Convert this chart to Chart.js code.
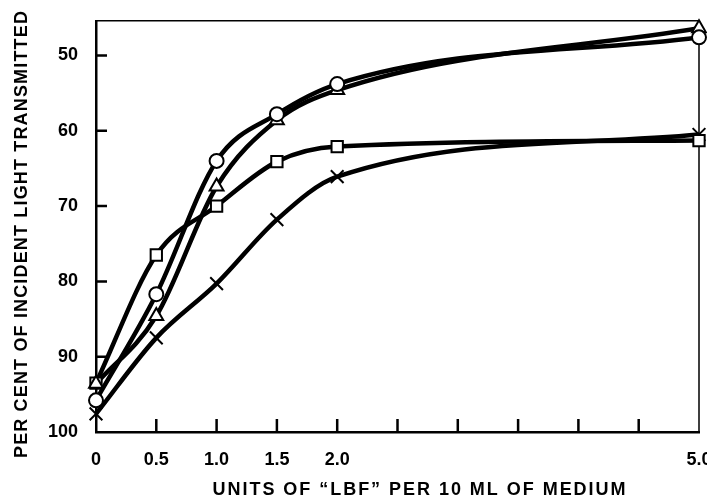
<!DOCTYPE html>
<html lang="en">
<head>
<meta charset="UTF-8" />
<title>Light transmitted vs LBF</title>
<script src="https://cdn.jsdelivr.net/npm/chart.js"></script>
<style>
  html, body { margin: 0; padding: 0; background: #fff; }
  canvas { display: block; }
</style>
</head>
<body>
<canvas id="chart" width="707" height="500"></canvas>
<script>
// units of "LBF" per 10 ml
const xValues = [0, 0.5, 1.0, 1.5, 2.0, 5.0];

// per cent of incident light transmitted
const circleSeries   = [95.8, 81.7, 64.0, 57.8, 53.8, 47.6];
const triangleSeries = [93.6, 84.6, 67.4, 58.6, 54.6, 46.4];
const squareSeries   = [93.5, 76.5, 70.0, 64.1, 62.1, 61.3];
const crossSeries    = [97.6, 87.5, 80.3, 71.8, 66.1, 60.5];

const xTickValues  = [0, 0.5, 1, 1.5, 2, 2.5, 3, 3.5, 4, 4.5, 5];
const xTickLabels  = { 0: '0', 0.5: '0.5', 1: '1.0', 1.5: '1.5', 2: '2.0', 5: '5.0' };
const yTickValues  = [50, 60, 70, 80, 90, 100];

const xTitle = 'UNITS OF \u201CLBF\u201D PER 10 ML OF MEDIUM';
const yTitle = 'PER CENT OF INCIDENT LIGHT TRANSMITTED';

const series = [
  { data: circleSeries,   style: 'circle',   r: 7 },
  { data: triangleSeries, style: 'triangle', r: 8 },
  { data: squareSeries,   style: 'rect',     r: 8 },
  { data: crossSeries,    style: 'crossRot', r: 9 }
];

const toPoints = arr => arr.map((y, i) => ({ x: xValues[i], y }));

const lineSets = series.map(s => ({
  data: toPoints(s.data),
  showLine: true,
  borderColor: '#000',
  borderWidth: 4.5,
  pointRadius: 0,
  fill: false,
  cubicInterpolationMode: 'monotone'
}));

const markerSets = series.map(s => ({
  data: toPoints(s.data),
  showLine: false,
  pointStyle: s.style,
  pointRadius: s.r,
  pointBorderWidth: 2,
  pointBorderColor: '#000',
  pointBackgroundColor: '#fff',
  clip: false
}));

const FONT = '"Liberation Sans", Arial, sans-serif';

// inner tick marks, frame and spaced-out axis titles
const decor = {
  id: 'decor',
  beforeDatasetsDraw(chart) {
    const { ctx, chartArea: a, scales: { x, y } } = chart;
    ctx.save();
    ctx.strokeStyle = '#000';
    ctx.lineWidth = 2.5;
    ctx.beginPath();
    yTickValues.slice(0, -1).forEach(v => {
      const py = y.getPixelForValue(v);
      ctx.moveTo(a.left, py);
      ctx.lineTo(a.left + 11, py);
    });
    xTickValues.slice(1, -1).forEach(v => {
      const px = x.getPixelForValue(v);
      ctx.moveTo(px, a.bottom);
      ctx.lineTo(px, a.bottom - 13);
    });
    ctx.stroke();
    ctx.lineWidth = 1.5;
    ctx.beginPath();
    ctx.moveTo(a.left, a.top);
    ctx.lineTo(a.right, a.top);
    ctx.lineTo(a.right, a.bottom);
    ctx.stroke();
    ctx.restore();
  },
  afterDraw(chart) {
    const { ctx } = chart;
    const drawSpaced = (text, cx, cy, width, rot) => {
      ctx.save();
      ctx.font = 'bold 18px ' + FONT;
      ctx.fillStyle = '#000';
      ctx.textAlign = 'center';
      ctx.textBaseline = 'middle';
      const natural = ctx.measureText(text).width;
      ctx.letterSpacing = ((width - natural) / (text.length - 1)).toFixed(2) + 'px';
      ctx.translate(cx, cy);
      ctx.rotate(rot);
      ctx.fillText(text, 0, 0);
      ctx.restore();
    };
    drawSpaced(xTitle, 420, 490, 413, 0);
    drawSpaced(yTitle, 22, 234, 447, -Math.PI / 2);
  }
};

new Chart(document.getElementById('chart'), {
  type: 'scatter',
  // first dataset is painted last, so markers go first to sit on top of the curves
  data: { datasets: [...markerSets, ...lineSets] },
  options: {
    responsive: false,
    animation: false,
    devicePixelRatio: 1,
    layout: { autoPadding: false, padding: { top: 18, right: 8, left: 0, bottom: 0 } },
    plugins: { legend: { display: false }, tooltip: { enabled: false } },
    scales: {
      x: {
        type: 'linear',
        min: 0,
        max: 5,
        afterBuildTicks: s => { s.ticks = xTickValues.map(v => ({ value: v })); },
        afterFit: s => { s.height = 68; s.paddingRight = 0; },
        grid: { display: false },
        border: { display: true, color: '#000', width: 2.5 },
        ticks: {
          autoSkip: false,
          maxRotation: 0,
          padding: 9,
          color: '#000',
          font: { family: FONT, size: 18, weight: 'bold' },
          callback: v => xTickLabels[v] ?? ''
        }
      },
      y: {
        type: 'linear',
        reverse: true,
        min: 45.4,
        max: 100,
        afterBuildTicks: s => { s.ticks = yTickValues.map(v => ({ value: v })); },
        afterFit: s => { s.width = 96; },
        grid: { display: false },
        border: { display: true, color: '#000', width: 2.5 },
        ticks: {
          padding: 10,
          color: '#000',
          font: { family: FONT, size: 18, weight: 'bold' }
        }
      }
    }
  },
  plugins: [decor]
});
</script>
</body>
</html>
